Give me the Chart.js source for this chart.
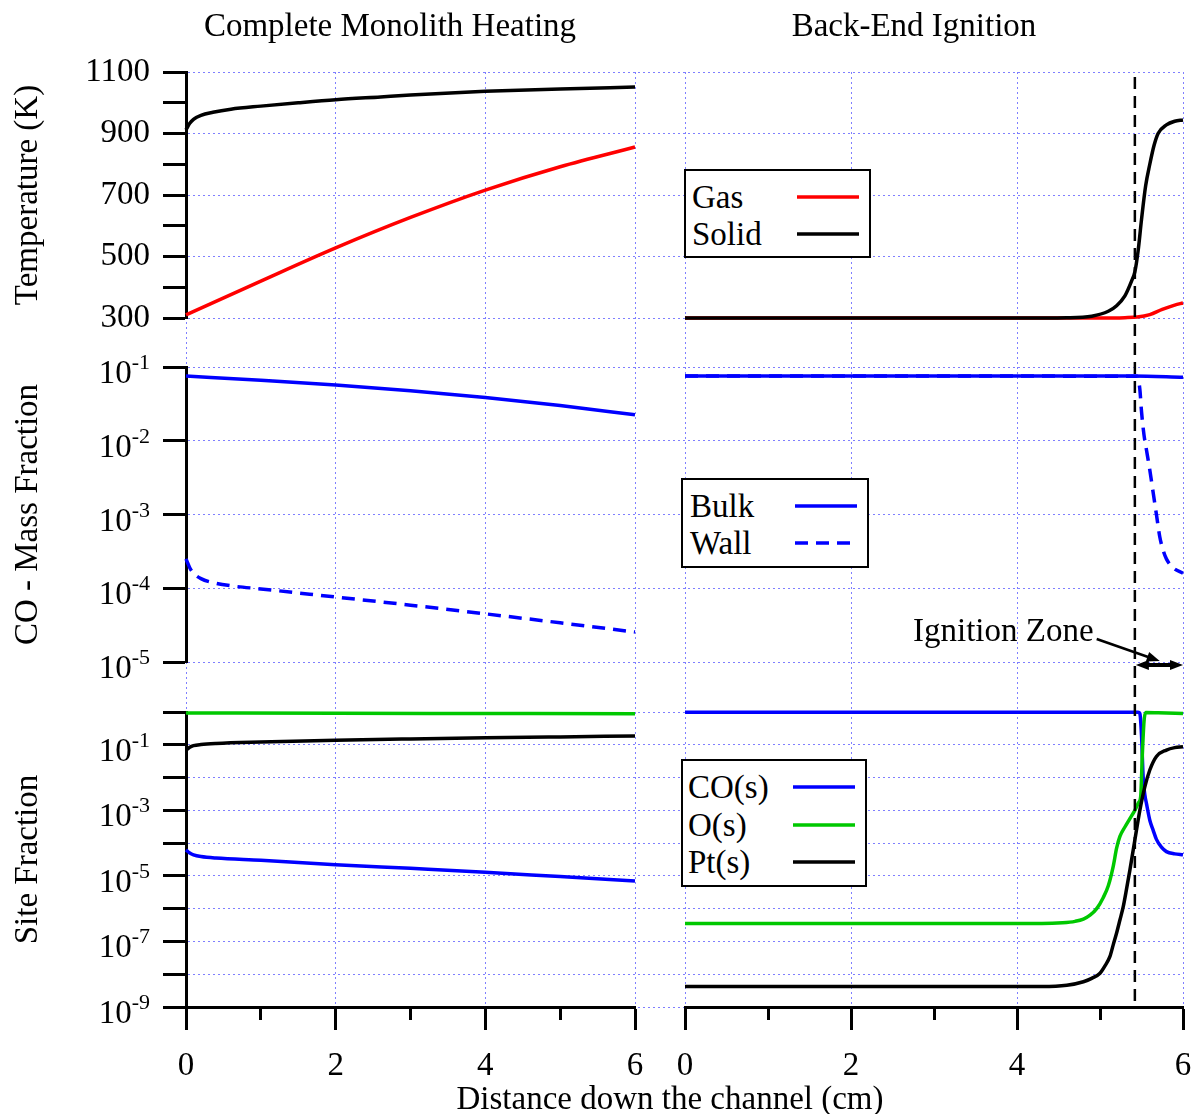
<!DOCTYPE html>
<html>
<head>
<meta charset="utf-8">
<script src="https://cdn.jsdelivr.net/npm/chart.js@4/dist/chart.umd.min.js"></script>
<style>
  body { margin: 0; background: #fff; }
  #wrap { position: relative; width: 1197px; height: 1114px; font-family: 'Liberation Serif', 'Times New Roman', serif; color: #000; overflow: hidden; }
  #wrap canvas { position: absolute; left: 0; top: 0; }
  .txt { position: absolute; line-height: 1; white-space: nowrap; transform: translate(-50%, -50%); }
  .legend { position: absolute; box-sizing: border-box; border: 2px solid #000; background: #fff; }
  .legend .row { position: absolute; left: 0; right: 0; height: 36px; }
  .legend .row span { position: absolute; font-size: 33px; line-height: 1; top: 50%; transform: translateY(-50%); }
  .legend .row svg { position: absolute; top: 14px; }
</style>
</head>
<body>
<div id="wrap">
  <canvas id="chart" width="1197" height="1114"></canvas>
</div>
<script>
// ---- data ---------------------------------------------------------------
// x axis: distance down the channel (cm)
const distTicks     = [0, 1, 2, 3, 4, 5, 6];
const distLabelled  = [0, 2, 4, 6];
const tempTicks     = [300, 400, 500, 600, 700, 800, 900, 1000, 1100];
const tempLabelled  = [300, 500, 700, 900, 1100];
const coTicks       = [1e-1, 1e-2, 1e-3, 1e-4, 1e-5];
const coLabelled    = [1e-1, 1e-2, 1e-3, 1e-4, 1e-5];
const siteTicks     = [1, 1e-1, 1e-2, 1e-3, 1e-4, 1e-5, 1e-6, 1e-7, 1e-8, 1e-9];
const siteLabelled  = [1e-1, 1e-3, 1e-5, 1e-7, 1e-9];

// Complete Monolith Heating (left column)
const heatSolidX = [0, 0.05, 0.1, 0.2, 0.36, 0.6, 1, 1.5, 2, 2.6, 3, 4, 5, 6];
const heatSolidT = [912, 933, 946, 959, 969, 979, 989, 1000, 1010, 1019, 1025, 1037, 1045, 1051];
const heatGasX   = [0, 1, 2, 3, 4, 5, 6];
const heatGasT   = [310, 420, 528, 627, 716, 792, 856];
const heatBulkX  = [0, 1, 2, 3, 4, 5, 6];
const heatBulkY  = [0.0755, 0.066, 0.057, 0.0475, 0.0385, 0.030, 0.0225];
const heatWallX  = [0, 0.05, 0.1, 0.2, 0.35, 0.6, 1, 2, 3, 4, 5, 6];
const heatWallY  = [2.5e-4, 1.9e-4, 1.6e-4, 1.35e-4, 1.2e-4, 1.08e-4, 9.8e-5, 7.6e-5, 5.9e-5, 4.5e-5, 3.4e-5, 2.55e-5];
const heatCOX    = [0, 0.05, 0.1, 0.2, 0.4, 1, 2, 3, 4, 5, 6];
const heatCOY    = [6.2e-5, 5.0e-5, 4.4e-5, 3.9e-5, 3.5e-5, 3.0e-5, 2.2e-5, 1.7e-5, 1.3e-5, 9.5e-6, 7.0e-6];
const heatOX     = [0, 2, 4, 6];
const heatOY     = [0.93, 0.92, 0.9, 0.88];
const heatPtX    = [0, 0.05, 0.1, 0.2, 0.4, 1, 2, 3, 4, 5, 6];
const heatPtY    = [0.068, 0.084, 0.094, 0.102, 0.11, 0.122, 0.138, 0.151, 0.163, 0.174, 0.185];

// Back-End Ignition (right column)
const ignitionX  = 5.42;
const ignGasX    = [0, 5, 5.3, 5.45, 5.6, 5.75, 5.9, 6];
const ignGasT    = [300, 300, 301, 303, 311, 328, 342, 349];
const ignSolidX  = [0, 4, 4.6, 4.9, 5.1, 5.2, 5.3, 5.38, 5.42, 5.46, 5.5, 5.55, 5.6, 5.65, 5.7, 5.8, 5.9, 6];
const ignSolidT  = [300, 300, 301, 306, 322, 340, 372, 420, 450, 520, 620, 730, 800, 860, 900, 928, 940, 944];
const ignBulkX   = [0, 5.4, 6];
const ignBulkY   = [0.0755, 0.0755, 0.0725];
const ignWallX   = [0, 5.45, 5.48, 5.5, 5.53, 5.56, 5.6, 5.64, 5.68, 5.72, 5.76, 5.8, 5.88, 6];
const ignWallY   = [0.0755, 0.075, 0.05, 0.025, 0.012, 0.0075, 0.004, 0.002, 0.001, 0.0005, 0.00033, 0.00025, 0.00019, 0.00016];
const ignCOX     = [0, 5.46, 5.48, 5.5, 5.52, 5.54, 5.56, 5.6, 5.64, 5.68, 5.74, 5.8, 5.9, 6];
const ignCOY     = [0.99, 0.99, 0.9, 0.2, 0.01, 0.003, 0.0016, 5e-4, 2.5e-4, 1.3e-4, 7.5e-5, 5.5e-5, 4.7e-5, 4.4e-5];
const ignOX      = [0, 4.3, 4.55, 4.7, 4.8, 4.88, 4.96, 5.04, 5.1, 5.16, 5.2, 5.24, 5.3, 5.36, 5.42, 5.47, 5.49, 5.51, 5.53, 5.55, 5.7, 6];
const ignOY      = [3.5e-7, 3.5e-7, 3.7e-7, 4.1e-7, 4.8e-7, 6.3e-7, 1.0e-6, 2.2e-6, 5e-6, 2e-5, 7e-5, 1.6e-4, 3.1e-4, 5.6e-4, 1.0e-3, 1.8e-3, 2.6e-3, 0.05, 0.5, 0.97, 0.95, 0.9];
const ignPtX     = [0, 4.3, 4.6, 4.8, 4.9, 5.0, 5.06, 5.12, 5.16, 5.2, 5.24, 5.28, 5.32, 5.36, 5.42, 5.48, 5.54, 5.6, 5.68, 5.8, 5.9, 6];
const ignPtY     = [4.2e-9, 4.2e-9, 4.6e-9, 5.9e-9, 7.5e-9, 1.07e-8, 1.8e-8, 3.5e-8, 8e-8, 1.8e-7, 4.5e-7, 1.15e-6, 4e-6, 1.5e-5, 1.25e-4, 1.0e-3, 5.2e-3, 1.7e-2, 4.4e-2, 6.9e-2, 8.2e-2, 8.7e-2];

// ---- styling --------------------------------------------------------------
const FONT  = "'Liberation Serif', 'Times New Roman', serif";
const GRID  = '#7f7fff';
const RED = '#ff0000', BLACK = '#000000', BLUE = '#0000ff', GREEN = '#00c800';
const LW = 3.5;
const WALL_DASH = [13, 8];

const pts = (xs, ys) => xs.map((x, i) => ({x, y: ys[i]}));
const near = (list, v) => list.some(u => Math.abs(u - v) <= Math.abs(u) * 1e-6);

function line(label, xs, ys, color, xAxisID, yAxisID, dash) {
  return {
    label, data: pts(xs, ys), xAxisID, yAxisID,
    borderColor: color, borderWidth: LW, borderDash: dash || [],
    pointRadius: 0, fill: false, clip: false, cubicInterpolationMode: 'monotone'
  };
}

// first dataset is painted last (on top)
const datasets = [
  line('Solid', heatSolidX, heatSolidT, BLACK, 'xL', 'yT'),
  line('Gas',   heatGasX,   heatGasT,   RED,   'xL', 'yT'),
  line('Wall',  heatWallX,  heatWallY,  BLUE,  'xL', 'yM', WALL_DASH),
  line('Bulk',  heatBulkX,  heatBulkY,  BLUE,  'xL', 'yM'),
  line('Pt(s)', heatPtX,    heatPtY,    BLACK, 'xL', 'yB'),
  line('O(s)',  heatOX,     heatOY,     GREEN, 'xL', 'yB'),
  line('CO(s)', heatCOX,    heatCOY,    BLUE,  'xL', 'yB'),
  line('Solid', ignSolidX,  ignSolidT,  BLACK, 'xR', 'yT'),
  line('Gas',   ignGasX,    ignGasT,    RED,   'xR', 'yT'),
  line('Wall',  ignWallX,   ignWallY,   BLUE,  'xR', 'yM', WALL_DASH),
  line('Bulk',  ignBulkX,   ignBulkY,   BLUE,  'xR', 'yM'),
  line('Pt(s)', ignPtX,     ignPtY,     BLACK, 'xR', 'yB'),
  line('O(s)',  ignOX,      ignOY,      GREEN, 'xR', 'yB'),
  line('CO(s)', ignCOX,     ignCOY,     BLUE,  'xR', 'yB')
];

// ---- scales: panels are built from stacked axes ----------------------------
const fix = (prop, size) => s => {
  s[prop] = size;
  s.paddingLeft = s.paddingRight = s.paddingTop = s.paddingBottom = 0;
};
const setTicks = list => s => { s.ticks = list.map(v => ({value: v})); };
const tickFont = {family: FONT, size: 33};

function xAxis(weight, stackWeight, gridAt) {
  return {
    type: 'linear', axis: 'x', position: 'bottom', stack: 'cols', stackWeight, weight,
    min: 0, max: 6,
    afterBuildTicks: setTicks(distTicks),
    afterFit: fix('height', 107),
    grid: {
      color: c => (c.tick && near(gridAt, c.tick.value)) ? GRID : 'rgba(0,0,0,0)',
      lineWidth: 1, tickLength: 23, tickWidth: 3, tickColor: BLACK,
      tickBorderDash: c => (c.tick && !near(distLabelled, c.tick.value)) ? [11, 40] : []
    },
    border: {display: true, color: BLACK, width: 3, dash: [2, 3]},
    ticks: {autoSkip: false, maxRotation: 0, padding: 17, color: BLACK, font: tickFont,
      callback: v => near(distLabelled, v) ? String(v) : ''}
  };
}

function yAxis(type, weight, stackWeight, min, max, ticks, gridAt, labelled, title) {
  return {
    type, axis: 'y', position: 'left', stack: 'rows', stackWeight, weight, min, max,
    afterBuildTicks: setTicks(ticks),
    afterFit: fix('width', 186),
    grid: {
      color: c => (c.tick && near(gridAt, c.tick.value)) ? GRID : 'rgba(0,0,0,0)',
      lineWidth: 1, tickLength: 23, tickWidth: 3, tickColor: BLACK
    },
    border: {display: true, color: BLACK, width: 3, dash: [2, 3]},
    ticks: {autoSkip: false, padding: 13, color: BLACK, font: tickFont,
      callback: v => (type === 'linear' && near(labelled, v)) ? String(v) : ''},
    title: {display: true, text: title, color: BLACK, font: {family: FONT, size: 33}, padding: {top: 9, bottom: 0}}
  };
}

function gapAxis(axis, position, stack, weight, stackWeight, prop, size) {
  return {
    type: 'linear', axis, position, stack, weight, stackWeight,
    afterFit: fix(prop, size),
    grid: {display: false}, border: {display: false}, ticks: {display: false}
  };
}

// log tick labels as 10 with a raised exponent
const logLabels = {
  id: 'logLabels',
  afterDraw(chart) {
    const ctx = chart.ctx;
    ctx.save();
    ctx.fillStyle = BLACK;
    ctx.textAlign = 'right';
    ctx.textBaseline = 'alphabetic';
    [['yM', coLabelled], ['yB', siteLabelled]].forEach(([id, labelled]) => {
      const s = chart.scales[id];
      const right = s.right - 23 - 13;
      labelled.forEach(v => {
        const y = s.getPixelForValue(v);
        const exp = String(Math.round(Math.log10(v)));
        ctx.font = '22px ' + FONT;
        ctx.fillText(exp, right, y + 2);
        const w = ctx.measureText(exp).width;
        ctx.font = '33px ' + FONT;
        ctx.fillText('10', right - w, y + 16);
      });
    });
    ctx.restore();
  }
};

function arrowHead(ctx, x, y, dir) {
  ctx.beginPath();
  ctx.moveTo(x, y);
  ctx.lineTo(x - dir * 13, y - 5);
  ctx.lineTo(x - dir * 13, y + 5);
  ctx.closePath();
  ctx.fill();
}

// ignition marker and "Ignition Zone" arrows
const ignition = {
  id: 'ignition',
  afterDatasetsDraw(chart) {
    const {ctx, chartArea, scales: {xR, yM}} = chart;
    const xi = xR.getPixelForValue(ignitionX);
    ctx.save();
    ctx.strokeStyle = BLACK;
    ctx.fillStyle = BLACK;
    ctx.lineWidth = 2.5;
    ctx.setLineDash([12, 7]);
    ctx.beginPath();
    ctx.moveTo(xi, chartArea.top + 5);
    ctx.lineTo(xi, chartArea.bottom);
    ctx.stroke();
    ctx.setLineDash([]);

    // double arrow spanning the ignition zone
    const ya = yM.getPixelForValue(1e-5) + 3;
    const xe = xR.getPixelForValue(6);
    ctx.lineWidth = 4;
    ctx.beginPath();
    ctx.moveTo(xi + 8, ya);
    ctx.lineTo(xe - 8, ya);
    ctx.stroke();
    arrowHead(ctx, xi + 1, ya, -1);
    arrowHead(ctx, xe, ya, 1);

    // pointer from the label
    const x0 = xR.getPixelForValue(4.96), y0 = yM.getPixelForValue(1e-5) - 23;
    const x1 = xR.getPixelForValue(5.72), y1 = yM.getPixelForValue(1e-5) - 1;
    const ang = Math.atan2(y1 - y0, x1 - x0);
    ctx.lineWidth = 2.5;
    ctx.beginPath();
    ctx.moveTo(x0, y0);
    ctx.lineTo(x1 - 10 * Math.cos(ang), y1 - 10 * Math.sin(ang));
    ctx.stroke();
    ctx.save();
    ctx.translate(x1, y1);
    ctx.rotate(ang);
    arrowHead(ctx, 0, 0, 1);
    ctx.restore();
    ctx.restore();
  }
};

new Chart(document.getElementById('chart'), {
  type: 'line',
  data: {datasets},
  options: {
    responsive: false,
    animation: false,
    events: [],
    layout: {padding: {left: 0, top: 72, right: 14, bottom: 0}},
    plugins: {legend: {display: false}, tooltip: {enabled: false}},
    scales: {
      xL:   xAxis(1, 449, [2, 4, 6, 0]),
      xGap: gapAxis('x', 'bottom', 'cols', 2, 50, 'height', 107),
      xR:   xAxis(3, 498, [0, 2, 4, 6]),
      yT:   yAxis('linear', 5, 246, 300, 1100, tempTicks, tempLabelled, tempLabelled, 'Temperature (K)'),
      yG1:  gapAxis('y', 'left', 'rows', 4, 49, 'width', 186),
      yM:   yAxis('logarithmic', 3, 295, 1e-5, 1e-1, coTicks, coTicks, coLabelled, 'CO - Mass Fraction'),
      yG2:  gapAxis('y', 'left', 'rows', 2, 50, 'width', 186),
      yB:   yAxis('logarithmic', 1, 295, 1e-9, 1, siteTicks, siteTicks, siteLabelled, 'Site Fraction')
    }
  },
  plugins: [logLabels, ignition]
});

// ---- text and legends -------------------------------------------------------
const wrap = document.getElementById('wrap');

function addText(text, x, cy, size, alignLeft) {
  const d = document.createElement('div');
  d.className = 'txt';
  d.textContent = text;
  Object.assign(d.style, {left: x + 'px', top: cy + 'px', fontSize: size + 'px'});
  if (alignLeft) d.style.transform = 'translate(0, -50%)';
  wrap.appendChild(d);
}
addText('Complete Monolith Heating', 390, 25, 33);
addText('Back-End Ignition', 914, 25, 33);
addText('Distance down the channel (cm)', 670, 1098, 33);
addText('Ignition Zone', 913, 630, 33, true);

function addLegend(box, labels) {
  const d = document.createElement('div');
  d.className = 'legend';
  Object.assign(d.style, {left: box.x + 'px', top: box.y + 'px', width: box.w + 'px', height: box.h + 'px'});
  labels.forEach((label, i) => {
    const ds = datasets.find(s => s.label === label);
    const row = document.createElement('div');
    row.className = 'row';
    row.style.top = (box.first + i * box.step - 18) + 'px';
    const span = document.createElement('span');
    span.textContent = label;
    span.style.left = box.tx + 'px';
    row.appendChild(span);
    const svg = document.createElementNS('http://www.w3.org/2000/svg', 'svg');
    svg.setAttribute('width', box.sw);
    svg.setAttribute('height', 8);
    svg.style.left = box.sx + 'px';
    const ln = document.createElementNS('http://www.w3.org/2000/svg', 'line');
    ln.setAttribute('x1', 0); ln.setAttribute('y1', 4);
    ln.setAttribute('x2', box.sw); ln.setAttribute('y2', 4);
    ln.setAttribute('stroke', ds.borderColor);
    ln.setAttribute('stroke-width', LW);
    if (ds.borderDash.length) ln.setAttribute('stroke-dasharray', ds.borderDash.join(' '));
    svg.appendChild(ln);
    row.appendChild(svg);
    d.appendChild(row);
  });
  wrap.appendChild(d);
}
addLegend({x: 684, y: 169, w: 187, h: 89, first: 26, step: 37, tx: 6, sx: 111, sw: 62}, ['Gas', 'Solid']);
addLegend({x: 681, y: 478, w: 188, h: 90, first: 26, step: 37, tx: 7, sx: 112, sw: 62}, ['Bulk', 'Wall']);
addLegend({x: 681, y: 759, w: 186, h: 128, first: 26, step: 37.5, tx: 5, sx: 110, sw: 62}, ['CO(s)', 'O(s)', 'Pt(s)']);
</script>
</body>
</html>
